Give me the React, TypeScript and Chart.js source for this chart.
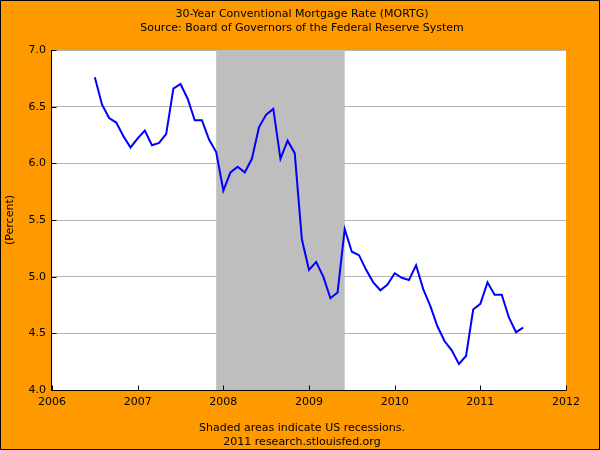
import { useEffect, useRef } from "react";
import { Chart, registerables } from "chart.js";

Chart.register(...registerables);

// Monthly observations (year-month)
const months = [
  "2006-07", "2006-08", "2006-09", "2006-10", "2006-11", "2006-12",
  "2007-01", "2007-02", "2007-03", "2007-04", "2007-05", "2007-06",
  "2007-07", "2007-08", "2007-09", "2007-10", "2007-11", "2007-12",
  "2008-01", "2008-02", "2008-03", "2008-04", "2008-05", "2008-06",
  "2008-07", "2008-08", "2008-09", "2008-10", "2008-11", "2008-12",
  "2009-01", "2009-02", "2009-03", "2009-04", "2009-05", "2009-06",
  "2009-07", "2009-08", "2009-09", "2009-10", "2009-11", "2009-12",
  "2010-01", "2010-02", "2010-03", "2010-04", "2010-05", "2010-06",
  "2010-07", "2010-08", "2010-09", "2010-10", "2010-11", "2010-12",
  "2011-01", "2011-02", "2011-03", "2011-04", "2011-05", "2011-06",
  "2011-07",
];

// 30-Year Conventional Mortgage Rate (percent)
const mortgageRate = [
  6.76, 6.52, 6.40, 6.36, 6.24, 6.14,
  6.22, 6.29, 6.16, 6.18, 6.26, 6.66,
  6.70, 6.57, 6.38, 6.38, 6.21, 6.10,
  5.76, 5.92, 5.97, 5.92, 6.04, 6.32,
  6.43, 6.48, 6.04, 6.20, 6.09, 5.33,
  5.06, 5.13, 5.00, 4.81, 4.86, 5.42,
  5.22, 5.19, 5.06, 4.95, 4.88, 4.93,
  5.03, 4.99, 4.97, 5.10, 4.89, 4.74,
  4.56, 4.43, 4.35, 4.23, 4.30, 4.71,
  4.76, 4.95, 4.84, 4.84, 4.64, 4.51,
  4.55,
];

const recessionStart = "2007-12";
const recessionEnd = "2009-06";

const xMin = 2006;
const xMax = 2012;
const yMin = 4.0;
const yMax = 7.0;
const yStep = 0.5;

const titleLines = [
  "30-Year Conventional Mortgage Rate (MORTG)",
  "Source: Board of Governors of the Federal Reserve System",
];
const footerLines = [
  "Shaded areas indicate US recessions.",
  "2011 research.stlouisfed.org",
];
const yAxisTitle = "(Percent)";

function toYear(m: string): number {
  const [y, mo] = m.split("-").map(Number);
  return y + (mo - 1) / 12;
}

const FONT = "'DejaVu Sans', Verdana, sans-serif";

const decorPlugin = {
  id: "fredDecor",
  beforeDraw(chart: any) {
    const { ctx, width, height, chartArea: ca } = chart;
    ctx.save();
    ctx.fillStyle = "#ff9900";
    ctx.fillRect(0, 0, width, height);
    ctx.strokeStyle = "#000000";
    ctx.lineWidth = 1;
    ctx.strokeRect(0.5, 0.5, width - 1, height - 1);
    ctx.fillStyle = "#ffffff";
    ctx.fillRect(ca.left, ca.top, ca.right - ca.left, ca.bottom - ca.top);
    ctx.restore();
  },
  beforeDatasetsDraw(chart: any) {
    const { ctx, chartArea: ca } = chart;
    const xs = chart.scales.x;
    const ys = chart.scales.y;
    ctx.save();
    // recession shading
    const x0 = xs.getPixelForValue(toYear(recessionStart));
    const x1 = xs.getPixelForValue(toYear(recessionEnd));
    ctx.fillStyle = "#bebebe";
    ctx.fillRect(x0, ca.top, x1 - x0, ca.bottom - ca.top);
    // axes
    ctx.strokeStyle = "#000000";
    ctx.lineWidth = 1;
    ctx.beginPath();
    const lx = Math.round(ca.left) - 0.5;
    const by = Math.round(ca.bottom) + 0.5;
    ctx.moveTo(lx, Math.round(ca.top));
    ctx.lineTo(lx, by);
    ctx.lineTo(Math.round(ca.right), by);
    // inward tick marks
    for (const t of xs.ticks) {
      const px = Math.round(xs.getPixelForValue(t.value)) + 0.5;
      ctx.moveTo(px, by);
      ctx.lineTo(px, by - 5);
    }
    for (const t of ys.ticks) {
      const py = Math.round(ys.getPixelForValue(t.value)) + 0.5;
      ctx.moveTo(lx, py);
      ctx.lineTo(lx + 5, py);
    }
    ctx.stroke();
    ctx.restore();
  },
};

export default function App() {
  const ref = useRef<HTMLCanvasElement>(null);
  useEffect(() => {
    document.body.style.margin = "0";
    const points = months.map((m, i) => ({ x: toYear(m), y: mortgageRate[i] }));
    const chart = new Chart(ref.current as HTMLCanvasElement, {
      type: "line",
      data: {
        datasets: [
          {
            label: "MORTG",
            data: points,
            borderColor: "#0000ff",
            borderWidth: 2,
            pointRadius: 0,
            tension: 0,
            fill: false,
          },
        ],
      },
      options: {
        animation: false,
        responsive: false,
        devicePixelRatio: 1,
        layout: { padding: { left: 4, right: 0, top: 0, bottom: 0 } },
        plugins: {
          legend: { display: false },
          tooltip: { enabled: false },
          title: {
            display: true,
            text: titleLines,
            color: "#000000",
            font: { family: FONT, size: 11, weight: "normal", lineHeight: 14 / 11 },
            padding: { top: 7, bottom: 15 },
          },
          subtitle: {
            display: true,
            position: "bottom",
            text: footerLines,
            color: "#000000",
            font: { family: FONT, size: 11, weight: "normal", lineHeight: 14 / 11 },
            padding: { top: 1, bottom: 1 },
          },
        },
        scales: {
          x: {
            type: "linear",
            min: xMin,
            max: xMax,
            grid: { display: false, drawTicks: false },
            border: { display: false },
            ticks: {
              stepSize: 1,
              padding: 6,
              color: "#000000",
              font: { family: FONT, size: 11 },
              maxRotation: 0,
              callback: (v: any) => String(v),
            },
            afterFit: (s: any) => {
              s.height = 30;
            },
          },
          y: {
            type: "linear",
            position: "left",
            min: yMin,
            max: yMax,
            grid: { color: "#b4b4b4", drawTicks: false },
            border: { display: false },
            ticks: {
              stepSize: yStep,
              padding: 6,
              color: "#000000",
              font: { family: FONT, size: 11 },
              callback: (v: any) => Number(v).toFixed(1),
            },
            title: {
              display: true,
              text: yAxisTitle,
              color: "#000000",
              font: { family: FONT, size: 11 },
              padding: { top: 0, bottom: 0 },
            },
            afterFit: (s: any) => {
              s.width = 48;
            },
          },
          yRight: {
            type: "linear",
            position: "right",
            display: true,
            grid: { display: false, drawTicks: false },
            border: { display: false },
            ticks: { display: false },
            afterFit: (s: any) => {
              s.width = 34;
            },
          },
        },
      },
      plugins: [decorPlugin],
    } as any);
    return () => chart.destroy();
  }, []);
  return (
    <canvas
      ref={ref}
      width={600}
      height={450}
      style={{ display: "block", width: 600, height: 450 }}
    />
  );
}
